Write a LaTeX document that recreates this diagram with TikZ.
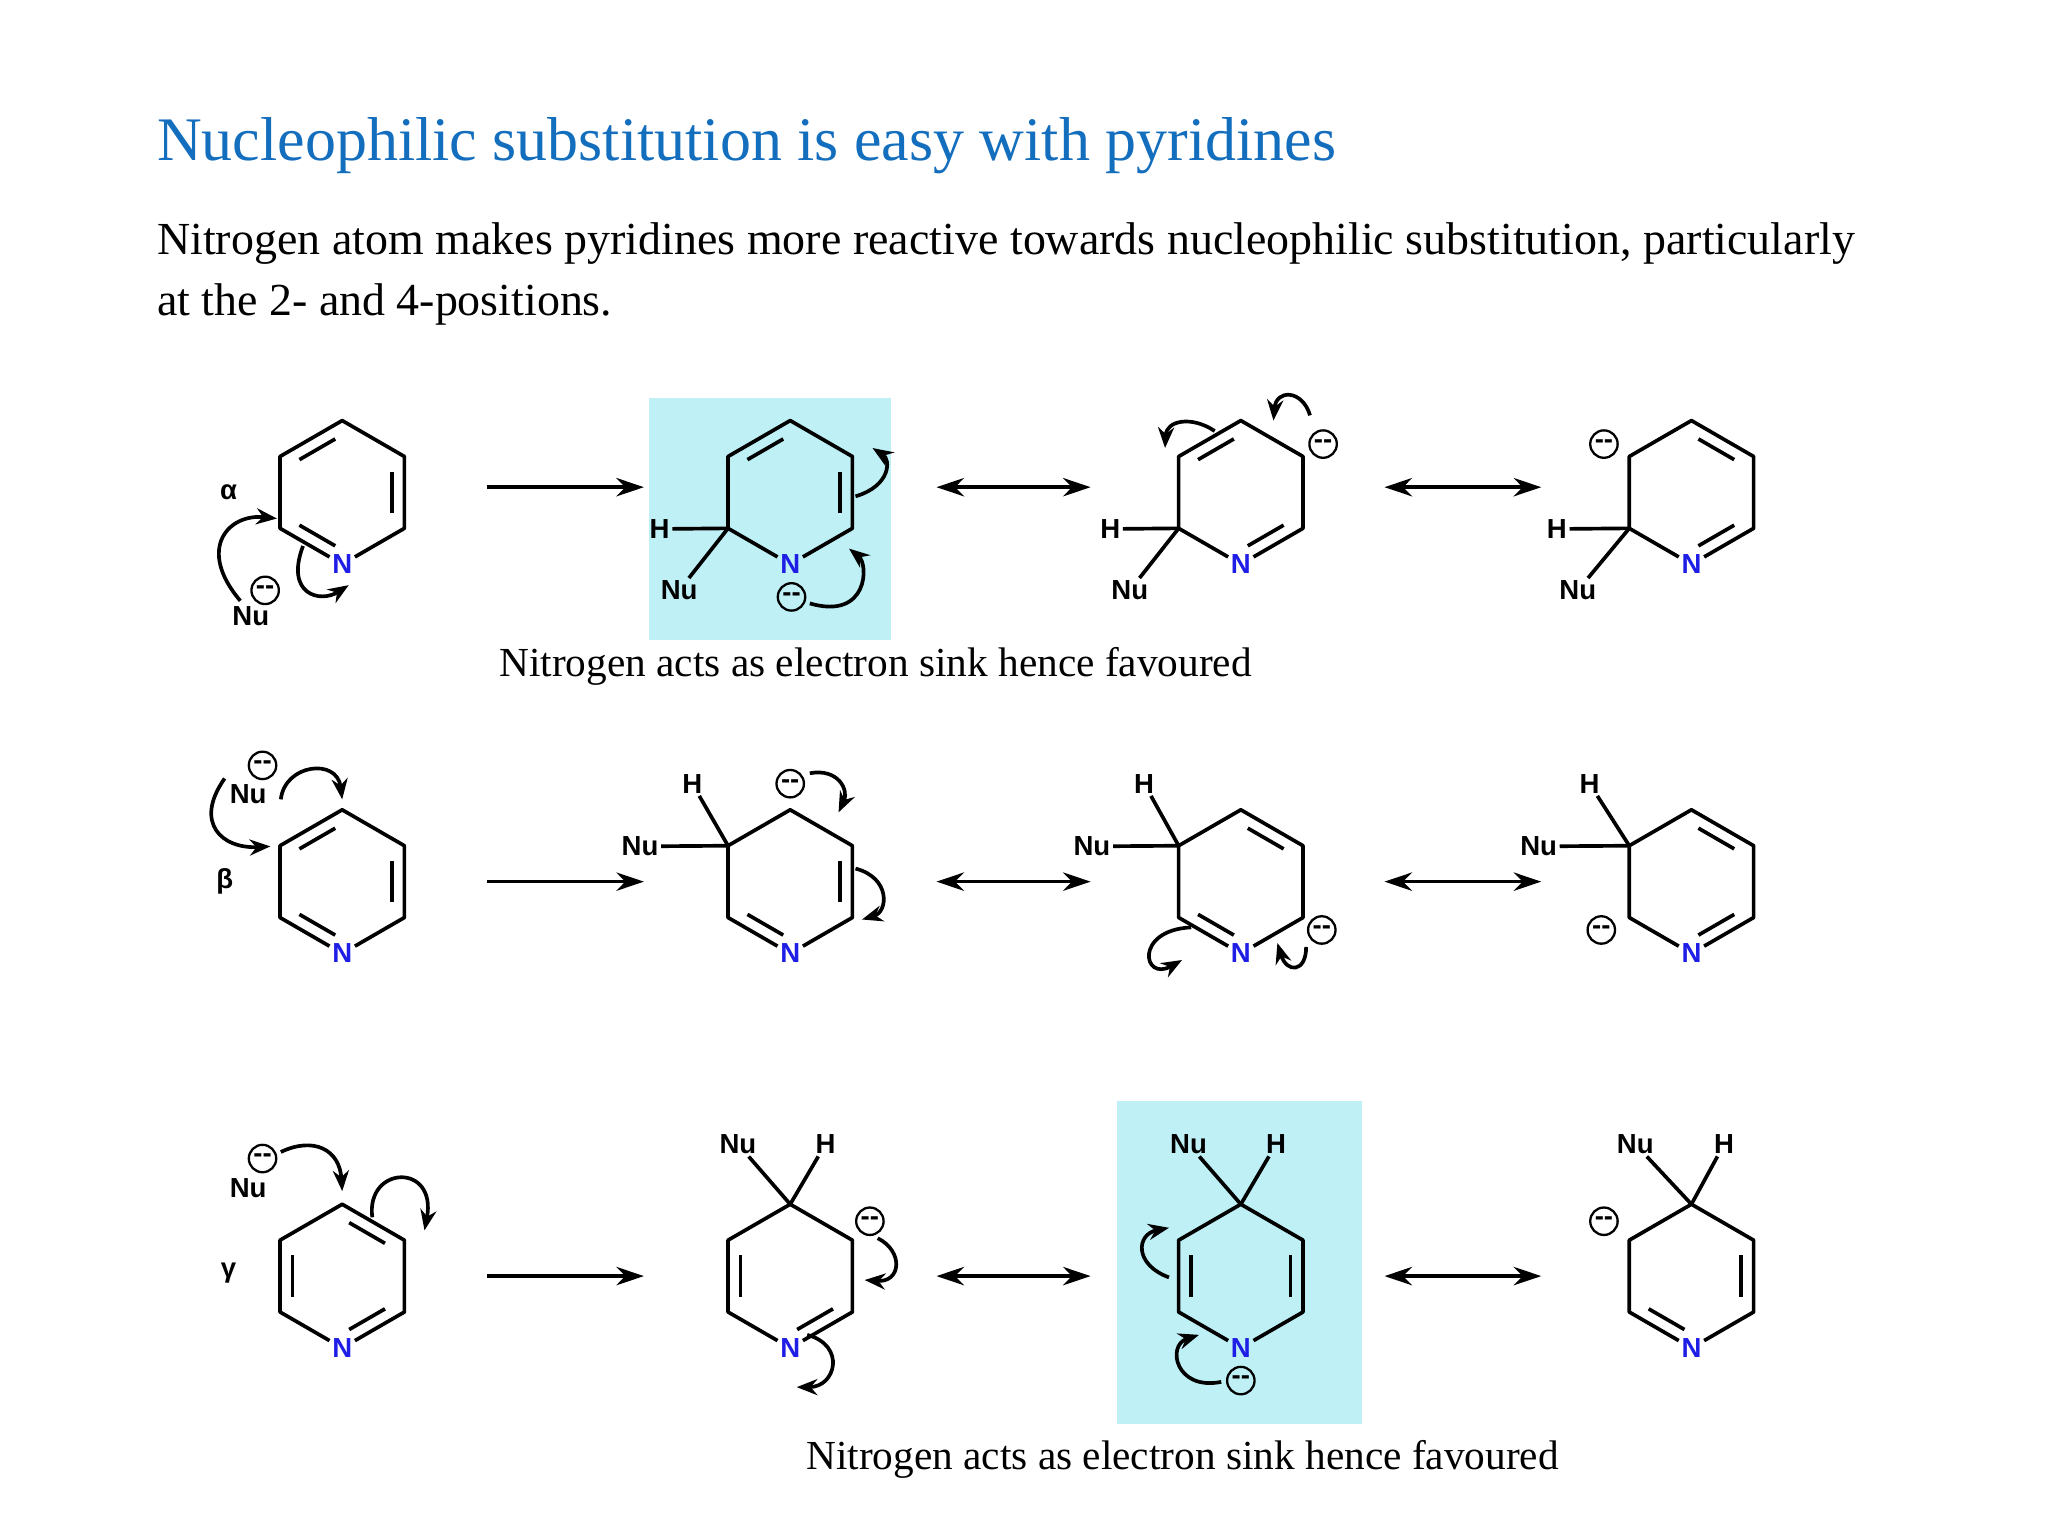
\documentclass[tikz,border=0pt]{standalone}
\usepackage{fontspec}
\setmainfont{Liberation Serif}
\newfontfamily\lab{Liberation Sans}
\usetikzlibrary{calc,arrows.meta}
\definecolor{titleblue}{RGB}{20,110,190}
\definecolor{nblue}{RGB}{30,30,230}
\definecolor{boxcyan}{RGB}{190,240,246}
\tikzset{
 bond/.style={line width=1.6pt},
 lbl/.style={font=\lab\bfseries\fontsize{12}{12}\selectfont, inner sep=1pt},
 nat/.style={lbl, text=nblue},
 minus/.style={circle, draw, line width=1pt, minimum size=0.42cm, inner sep=0pt, font=\lab\bfseries\fontsize{12}{12}\selectfont},
 curly/.style={line width=1.6pt, -{Stealth[length=9pt,width=7pt]}},
 rxn/.style={line width=1.6pt, -{Stealth[length=12pt,width=8pt]}},
 res/.style={line width=1.6pt, {Stealth[length=12pt,width=8pt]}-{Stealth[length=12pt,width=8pt]}},
 captext/.style={font=\fontsize{18}{22}\selectfont, inner sep=0pt}
}
% ring: name, cx, cy
\newcommand{\myring}[3]{%
 \coordinate (#1-c) at (#2,#3);
 \coordinate (#1-1) at (#2,#3-55);
 \coordinate (#1-2) at (#2+47.6,#3-27.5);
 \coordinate (#1-3) at (#2+47.6,#3+27.5);
 \node[nat] (#1-4) at (#2,#3+55) {N};
 \coordinate (#1-5) at (#2-47.6,#3+27.5);
 \coordinate (#1-6) at (#2-47.6,#3-27.5);
 \draw[bond,line join=round] (#1-4) -- (#1-5) -- (#1-6) -- (#1-1) -- (#1-2) -- (#1-3) -- (#1-4);}
\newcommand{\dbl}[3]{%
 \draw[bond] ($($(#1-#2)!0.2!(#1-c)$)!0.14!($(#1-#3)!0.2!(#1-c)$)$) -- ($($(#1-#3)!0.2!(#1-c)$)!0.14!($(#1-#2)!0.2!(#1-c)$)$);}
\begin{document}
\begin{tikzpicture}[x=0.02cm,y=-0.02cm]
\useasboundingbox (0,0) rectangle (1568,1176);
\fill[white] (0,0) rectangle (1568,1176);
% boxes
\fill[boxcyan] (497,305) rectangle (682,490);
\fill[boxcyan] (855,843) rectangle (1043,1090);
% texts
\node[anchor=base west, inner sep=0pt, text=titleblue, font=\fontsize{27}{30}\selectfont] (title) at (120,123) {Nucleophilic substitution is easy with pyridines};
\node[anchor=north west, inner sep=0pt, text width=26cm, align=justify, font=\fontsize{20}{26.7}\selectfont] (intro) at (120,170) {Nitrogen atom makes pyridines more reactive towards nucleophilic substitution, particularly at the 2- and 4-positions.};
\node[captext, anchor=base west] (cap1) at (382,518) {Nitrogen acts as electron sink hence favoured};
\node[captext, anchor=base west] (cap2) at (617,1125) {Nitrogen acts as electron sink hence favoured};

% ---------- Row 1 ----------
\myring{a1}{262}{377} \dbl{a1}{6}{1}\dbl{a1}{2}{3}\dbl{a1}{4}{5}
\node[lbl] (al) at (175,377) {α};
\node[lbl] (nu1) at (192,472) {Nu};
\node[minus] (m1) at (203,452) {--};
\draw[curly] (184,460) .. controls (150,420) and (175,393) .. (212,397);
\draw[curly] (232,418) .. controls (218,455) and (245,462) .. (267,448);

\myring{b1}{605}{377} \dbl{b1}{6}{1}\dbl{b1}{2}{3}
\node[lbl] (b1h) at (505,405) {H};
\node[lbl] (b1nu) at (520,452) {Nu};
\draw[bond] (b1-5) -- (b1h); \draw[bond] (b1-5) -- (b1nu);
\node[minus] (b1m) at (606,457) {--};
\draw[curly] (655,380) .. controls (682,372) and (682,352) .. (668,343);
\draw[curly] (620,462) .. controls (665,475) and (665,432) .. (650,420);

\myring{c1}{950}{377} \dbl{c1}{6}{1}\dbl{c1}{3}{4}
\node[lbl] (c1h) at (850,405) {H};
\node[lbl] (c1nu) at (865,452) {Nu};
\draw[bond] (c1-5) -- (c1h); \draw[bond] (c1-5) -- (c1nu);
\node[minus] (c1m) at (1013,340) {--};
\draw[curly] (930,330) .. controls (912,318) and (893,322) .. (892,343);
\draw[curly] (1003,318) .. controls (997,298) and (977,298) .. (975,322);

\myring{d1}{1295}{377} \dbl{d1}{1}{2}\dbl{d1}{3}{4}
\node[lbl] (d1h) at (1192,405) {H};
\node[lbl] (d1nu) at (1208,452) {Nu};
\draw[bond] (d1-5) -- (d1h); \draw[bond] (d1-5) -- (d1nu);
\node[minus] (d1m) at (1228,340) {--};

\coordinate (r1a) at (373,373); \coordinate (r1b) at (493,373);
\draw[rxn] (r1a) -- (r1b);
\coordinate (r1c) at (717,373); \coordinate (r1d) at (835,373);
\draw[res] (r1c) -- (r1d);
\coordinate (r1e) at (1060,373); \coordinate (r1f) at (1180,373);
\draw[res] (r1e) -- (r1f);

% ---------- Row 2 ----------
\myring{a2}{262}{675} \dbl{a2}{6}{1}\dbl{a2}{2}{3}\dbl{a2}{4}{5}
\node[lbl] (be) at (172,675) {β};
\node[lbl] (nu2) at (190,608) {Nu};
\node[minus] (m2) at (201,586) {--};
\draw[curly] (172,596) .. controls (148,630) and (170,650) .. (207,648);
\draw[curly] (215,612) .. controls (218,585) and (258,580) .. (262,612);

\myring{b2}{605}{675} \dbl{b2}{2}{3}\dbl{b2}{4}{5}
\node[lbl] (b2h) at (530,600) {H};
\node[lbl] (b2nu) at (490,648) {Nu};
\draw[bond] (b2-6) -- (b2h); \draw[bond] (b2-6) -- (b2nu);
\node[minus] (b2m) at (605,600) {--};
\draw[curly] (620,592) .. controls (642,588) and (650,605) .. (642,622);
\draw[curly] (655,665) .. controls (682,672) and (680,698) .. (660,704);

\myring{c2}{950}{675} \dbl{c2}{1}{2}\dbl{c2}{4}{5}
\node[lbl] (c2h) at (876,600) {H};
\node[lbl] (c2nu) at (836,648) {Nu};
\draw[bond] (c2-6) -- (c2h); \draw[bond] (c2-6) -- (c2nu);
\node[minus] (c2m) at (1012,712) {--};
\draw[curly] (912,710) .. controls (868,712) and (875,752) .. (905,735);
\draw[curly] (1000,725) .. controls (1000,745) and (985,745) .. (978,722);

\myring{d2}{1295}{675} \dbl{d2}{1}{2}\dbl{d2}{3}{4}
\node[lbl] (d2h) at (1217,600) {H};
\node[lbl] (d2nu) at (1178,648) {Nu};
\draw[bond] (d2-6) -- (d2h); \draw[bond] (d2-6) -- (d2nu);
\node[minus] (d2m) at (1226,712) {--};

\coordinate (r2a) at (373,675); \coordinate (r2b) at (493,675);
\draw[rxn] (r2a) -- (r2b);
\coordinate (r2c) at (717,675); \coordinate (r2d) at (835,675);
\draw[res] (r2c) -- (r2d);
\coordinate (r2e) at (1060,675); \coordinate (r2f) at (1180,675);
\draw[res] (r2e) -- (r2f);

% ---------- Row 3 ----------
\myring{a3}{262}{977} \dbl{a3}{1}{2}\dbl{a3}{3}{4}\dbl{a3}{5}{6}
\node[lbl] (ga) at (175,975) {γ};
\node[lbl] (nu3) at (190,910) {Nu};
\node[minus] (m3) at (201,887) {--};
\draw[curly] (215,882) .. controls (240,870) and (260,880) .. (262,912);
\draw[curly] (285,932) .. controls (280,892) and (335,890) .. (325,942);

\myring{b3}{605}{977} \dbl{b3}{5}{6}\dbl{b3}{3}{4}
\node[lbl] (b3nu) at (565,876) {Nu};
\node[lbl] (b3h) at (632,876) {H};
\draw[bond] (b3-1) -- (b3nu); \draw[bond] (b3-1) -- (b3h);
\node[minus] (b3m) at (666,935) {--};
\draw[curly] (672,948) .. controls (692,958) and (690,982) .. (662,980);
\draw[curly] (618,1022) .. controls (648,1030) and (640,1062) .. (610,1062);

\myring{c3}{950}{977} \dbl{c3}{5}{6}\dbl{c3}{2}{3}
\node[lbl] (c3nu) at (910,876) {Nu};
\node[lbl] (c3h) at (977,876) {H};
\draw[bond] (c3-1) -- (c3nu); \draw[bond] (c3-1) -- (c3h);
\node[minus] (c3m) at (950,1057) {--};
\draw[curly] (895,978) .. controls (868,968) and (870,945) .. (895,940);
\draw[curly] (935,1058) .. controls (900,1065) and (893,1030) .. (918,1022);

\myring{d3}{1295}{977} \dbl{d3}{2}{3}\dbl{d3}{4}{5}
\node[lbl] (d3nu) at (1252,876) {Nu};
\node[lbl] (d3h) at (1320,876) {H};
\draw[bond] (d3-1) -- (d3nu); \draw[bond] (d3-1) -- (d3h);
\node[minus] (d3m) at (1228,935) {--};

\coordinate (r3a) at (373,977); \coordinate (r3b) at (493,977);
\draw[rxn] (r3a) -- (r3b);
\coordinate (r3c) at (717,977); \coordinate (r3d) at (835,977);
\draw[res] (r3c) -- (r3d);
\coordinate (r3e) at (1060,977); \coordinate (r3f) at (1180,977);
\draw[res] (r3e) -- (r3f);
\end{tikzpicture}
\end{document}
